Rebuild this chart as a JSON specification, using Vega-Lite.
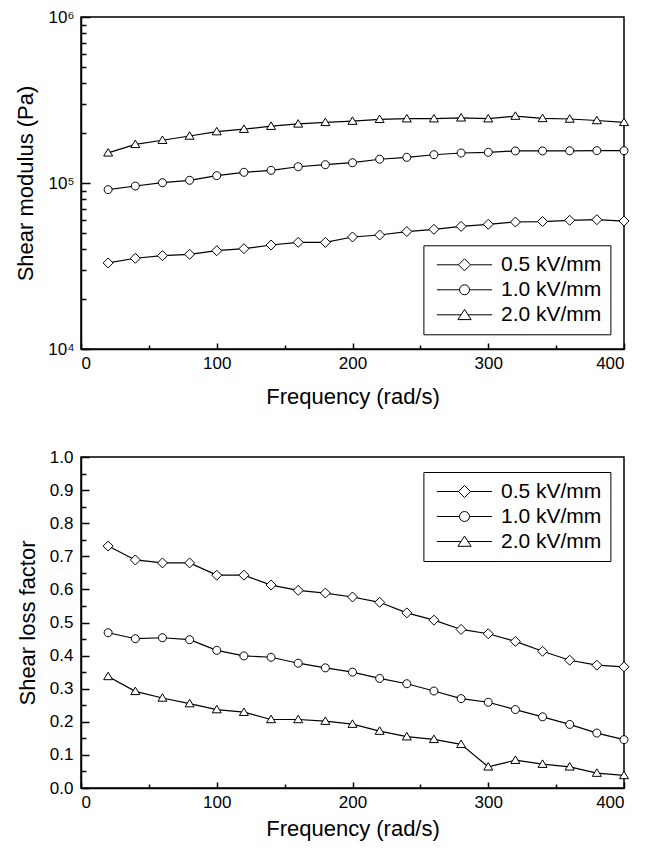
{
  "$schema": "https://vega.github.io/schema/vega-lite/v6.json",
  "padding": {"left": 14, "top": 7, "right": 5, "bottom": 5},
  "background": "white",
  "config": {
    "font": "Liberation Sans",
    "view": {"stroke": "black", "strokeWidth": 1.5},
    "axis": {"domainColor": "black", "domainWidth": 1.5, "tickColor": "black", "tickWidth": 1.5, "labelColor": "black", "titleColor": "black", "labelFontSize": 17, "titleFontSize": 22, "titleFontWeight": "normal", "grid": false, "labelFont": "Liberation Sans", "titleFont": "Liberation Sans"},
    "legend": {"strokeColor": "black", "fillColor": "white", "strokeWidth": 1, "cornerRadius": 0, "padding": 9, "labelFontSize": 21, "labelColor": "black", "labelFont": "Liberation Sans", "symbolSize": 144, "symbolOffset": 21.6, "labelOffset": 26, "rowPadding": 3, "symbolStrokeWidth": 1, "symbolStrokeColor": "black", "symbolFillColor": "white", "symbolOpacity": 1},
    "concat": {"spacing": 39}
  },
  "datasets": {
    "modulus": [
      {"series": "0.5 kV/mm", "freq": 20, "value": 33000}, {"series": "0.5 kV/mm", "freq": 40, "value": 35200}, {"series": "0.5 kV/mm", "freq": 60, "value": 36500}, {"series": "0.5 kV/mm", "freq": 80, "value": 37200}, {"series": "0.5 kV/mm", "freq": 100, "value": 39100}, {"series": "0.5 kV/mm", "freq": 120, "value": 40200}, {"series": "0.5 kV/mm", "freq": 140, "value": 42300}, {"series": "0.5 kV/mm", "freq": 160, "value": 43900}, {"series": "0.5 kV/mm", "freq": 180, "value": 43900}, {"series": "0.5 kV/mm", "freq": 200, "value": 47300}, {"series": "0.5 kV/mm", "freq": 220, "value": 48600}, {"series": "0.5 kV/mm", "freq": 240, "value": 51000}, {"series": "0.5 kV/mm", "freq": 260, "value": 52600}, {"series": "0.5 kV/mm", "freq": 280, "value": 54800}, {"series": "0.5 kV/mm", "freq": 300, "value": 56400}, {"series": "0.5 kV/mm", "freq": 320, "value": 58200}, {"series": "0.5 kV/mm", "freq": 340, "value": 58600}, {"series": "0.5 kV/mm", "freq": 360, "value": 59600}, {"series": "0.5 kV/mm", "freq": 380, "value": 60100}, {"series": "0.5 kV/mm", "freq": 400, "value": 59000},
      {"series": "1.0 kV/mm", "freq": 20, "value": 91200}, {"series": "1.0 kV/mm", "freq": 40, "value": 95900}, {"series": "1.0 kV/mm", "freq": 60, "value": 100400}, {"series": "1.0 kV/mm", "freq": 80, "value": 103800}, {"series": "1.0 kV/mm", "freq": 100, "value": 110700}, {"series": "1.0 kV/mm", "freq": 120, "value": 116000}, {"series": "1.0 kV/mm", "freq": 140, "value": 119200}, {"series": "1.0 kV/mm", "freq": 160, "value": 125300}, {"series": "1.0 kV/mm", "freq": 180, "value": 128900}, {"series": "1.0 kV/mm", "freq": 200, "value": 132500}, {"series": "1.0 kV/mm", "freq": 220, "value": 139000}, {"series": "1.0 kV/mm", "freq": 240, "value": 142800}, {"series": "1.0 kV/mm", "freq": 260, "value": 148000}, {"series": "1.0 kV/mm", "freq": 280, "value": 151600}, {"series": "1.0 kV/mm", "freq": 300, "value": 153000}, {"series": "1.0 kV/mm", "freq": 320, "value": 156000}, {"series": "1.0 kV/mm", "freq": 340, "value": 156000}, {"series": "1.0 kV/mm", "freq": 360, "value": 156300}, {"series": "1.0 kV/mm", "freq": 380, "value": 156600}, {"series": "1.0 kV/mm", "freq": 400, "value": 156600},
      {"series": "2.0 kV/mm", "freq": 20, "value": 152000}, {"series": "2.0 kV/mm", "freq": 40, "value": 171000}, {"series": "2.0 kV/mm", "freq": 60, "value": 181000}, {"series": "2.0 kV/mm", "freq": 80, "value": 192000}, {"series": "2.0 kV/mm", "freq": 100, "value": 204000}, {"series": "2.0 kV/mm", "freq": 120, "value": 211000}, {"series": "2.0 kV/mm", "freq": 140, "value": 220000}, {"series": "2.0 kV/mm", "freq": 160, "value": 227000}, {"series": "2.0 kV/mm", "freq": 180, "value": 232000}, {"series": "2.0 kV/mm", "freq": 200, "value": 236000}, {"series": "2.0 kV/mm", "freq": 220, "value": 242000}, {"series": "2.0 kV/mm", "freq": 240, "value": 244000}, {"series": "2.0 kV/mm", "freq": 260, "value": 244000}, {"series": "2.0 kV/mm", "freq": 280, "value": 247000}, {"series": "2.0 kV/mm", "freq": 300, "value": 244000}, {"series": "2.0 kV/mm", "freq": 320, "value": 253000}, {"series": "2.0 kV/mm", "freq": 340, "value": 245000}, {"series": "2.0 kV/mm", "freq": 360, "value": 243000}, {"series": "2.0 kV/mm", "freq": 380, "value": 238000}, {"series": "2.0 kV/mm", "freq": 400, "value": 232000}
    ],
    "loss": [
      {"series": "0.5 kV/mm", "freq": 20, "value": 0.731}, {"series": "0.5 kV/mm", "freq": 40, "value": 0.689}, {"series": "0.5 kV/mm", "freq": 60, "value": 0.68}, {"series": "0.5 kV/mm", "freq": 80, "value": 0.68}, {"series": "0.5 kV/mm", "freq": 100, "value": 0.643}, {"series": "0.5 kV/mm", "freq": 120, "value": 0.643}, {"series": "0.5 kV/mm", "freq": 140, "value": 0.613}, {"series": "0.5 kV/mm", "freq": 160, "value": 0.597}, {"series": "0.5 kV/mm", "freq": 180, "value": 0.589}, {"series": "0.5 kV/mm", "freq": 200, "value": 0.577}, {"series": "0.5 kV/mm", "freq": 220, "value": 0.561}, {"series": "0.5 kV/mm", "freq": 240, "value": 0.529}, {"series": "0.5 kV/mm", "freq": 260, "value": 0.507}, {"series": "0.5 kV/mm", "freq": 280, "value": 0.479}, {"series": "0.5 kV/mm", "freq": 300, "value": 0.466}, {"series": "0.5 kV/mm", "freq": 320, "value": 0.443}, {"series": "0.5 kV/mm", "freq": 340, "value": 0.413}, {"series": "0.5 kV/mm", "freq": 360, "value": 0.386}, {"series": "0.5 kV/mm", "freq": 380, "value": 0.371}, {"series": "0.5 kV/mm", "freq": 400, "value": 0.366},
      {"series": "1.0 kV/mm", "freq": 20, "value": 0.469}, {"series": "1.0 kV/mm", "freq": 40, "value": 0.451}, {"series": "1.0 kV/mm", "freq": 60, "value": 0.454}, {"series": "1.0 kV/mm", "freq": 80, "value": 0.448}, {"series": "1.0 kV/mm", "freq": 100, "value": 0.416}, {"series": "1.0 kV/mm", "freq": 120, "value": 0.399}, {"series": "1.0 kV/mm", "freq": 140, "value": 0.395}, {"series": "1.0 kV/mm", "freq": 160, "value": 0.377}, {"series": "1.0 kV/mm", "freq": 180, "value": 0.363}, {"series": "1.0 kV/mm", "freq": 200, "value": 0.35}, {"series": "1.0 kV/mm", "freq": 220, "value": 0.331}, {"series": "1.0 kV/mm", "freq": 240, "value": 0.315}, {"series": "1.0 kV/mm", "freq": 260, "value": 0.293}, {"series": "1.0 kV/mm", "freq": 280, "value": 0.27}, {"series": "1.0 kV/mm", "freq": 300, "value": 0.259}, {"series": "1.0 kV/mm", "freq": 320, "value": 0.237}, {"series": "1.0 kV/mm", "freq": 340, "value": 0.215}, {"series": "1.0 kV/mm", "freq": 360, "value": 0.192}, {"series": "1.0 kV/mm", "freq": 380, "value": 0.166}, {"series": "1.0 kV/mm", "freq": 400, "value": 0.146},
      {"series": "2.0 kV/mm", "freq": 20, "value": 0.337}, {"series": "2.0 kV/mm", "freq": 40, "value": 0.292}, {"series": "2.0 kV/mm", "freq": 60, "value": 0.272}, {"series": "2.0 kV/mm", "freq": 80, "value": 0.255}, {"series": "2.0 kV/mm", "freq": 100, "value": 0.237}, {"series": "2.0 kV/mm", "freq": 120, "value": 0.229}, {"series": "2.0 kV/mm", "freq": 140, "value": 0.207}, {"series": "2.0 kV/mm", "freq": 160, "value": 0.207}, {"series": "2.0 kV/mm", "freq": 180, "value": 0.202}, {"series": "2.0 kV/mm", "freq": 200, "value": 0.193}, {"series": "2.0 kV/mm", "freq": 220, "value": 0.172}, {"series": "2.0 kV/mm", "freq": 240, "value": 0.155}, {"series": "2.0 kV/mm", "freq": 260, "value": 0.147}, {"series": "2.0 kV/mm", "freq": 280, "value": 0.132}, {"series": "2.0 kV/mm", "freq": 300, "value": 0.064}, {"series": "2.0 kV/mm", "freq": 320, "value": 0.084}, {"series": "2.0 kV/mm", "freq": 340, "value": 0.072}, {"series": "2.0 kV/mm", "freq": 360, "value": 0.064}, {"series": "2.0 kV/mm", "freq": 380, "value": 0.045}, {"series": "2.0 kV/mm", "freq": 400, "value": 0.038}
    ]
  },
  "vconcat": [
    {
      "width": 543,
      "height": 332,
      "data": {"name": "modulus"},
      "encoding": {
        "x": {"field": "freq", "type": "quantitative", "scale": {"domain": [0, 400], "nice": false},
          "axis": {"title": "Frequency (rad/s)", "values": [0, 50, 100, 150, 200, 250, 300, 350, 400], "labelExpr": "datum.value % 100 === 0 ? datum.label : ''", "tickSize": {"condition": {"test": "datum.value % 100 === 0", "value": -6}, "value": -4}, "labelPadding": 12, "titlePadding": 15}},
        "y": {"field": "value", "type": "quantitative", "scale": {"type": "log", "domain": [10000, 1000000], "nice": false},
          "axis": {"title": "Shear modulus (Pa)", "values": [10000, 20000, 30000, 40000, 50000, 60000, 70000, 80000, 90000, 100000, 200000, 300000, 400000, 500000, 600000, 700000, 800000, 900000, 1000000], "labelExpr": "datum.value === 10000 ? '10⁴' : datum.value === 100000 ? '10⁵' : datum.value === 1000000 ? '10⁶' : ''", "tickSize": {"condition": {"test": "datum.value === 10000 || datum.value === 100000 || datum.value === 1000000", "value": -9}, "value": -5}, "labelPadding": 16, "titlePadding": 10}}
      },
      "layer": [
        {"mark": {"type": "line", "color": "black", "strokeWidth": 1.2}, "encoding": {"detail": {"field": "series"}}},
        {"mark": {"type": "point", "filled": true, "fill": "white", "stroke": "black", "strokeWidth": 1, "size": 100, "opacity": 1},
          "encoding": {"shape": {"field": "series", "type": "nominal", "scale": {"domain": ["0.5 kV/mm", "1.0 kV/mm", "2.0 kV/mm"], "range": ["M-1,0L0,-1L1,0L0,1Z", "M-0.8,0A0.8,0.8,0,1,1,0.8,0A0.8,0.8,0,1,1,-0.8,0Z", "M0,-0.85L0.9,0.65L-0.9,0.65Z"]}, "legend": null}}},
        {"mark": {"type": "point", "opacity": 0, "size": 144},
          "encoding": {"shape": {"field": "series", "type": "nominal", "scale": {"domain": ["0.5 kV/mm", "1.0 kV/mm", "2.0 kV/mm"], "range": ["M-4.6,0L-1,0M1,0L4.6,0M-1,0L0,-1L1,0L0,1Z", "M-4.6,0L-0.83,0M0.83,0L4.6,0M-0.83,0A0.83,0.83,0,1,1,0.83,0A0.83,0.83,0,1,1,-0.83,0Z", "M-4.6,0L-0.58,0M0.58,0L4.6,0M0,-0.9L1.1,0.8L-1.1,0.8Z"]},
            "legend": {"title": null, "orient": "none", "legendX": 342.4, "legendY": 228.3}}}}
      ],
      "resolve": {"scale": {"shape": "independent"}, "legend": {"shape": "independent"}}
    },
    {
      "width": 543,
      "height": 331,
      "data": {"name": "loss"},
      "encoding": {
        "x": {"field": "freq", "type": "quantitative", "scale": {"domain": [0, 400], "nice": false},
          "axis": {"title": "Frequency (rad/s)", "values": [0, 50, 100, 150, 200, 250, 300, 350, 400], "labelExpr": "datum.value % 100 === 0 ? datum.label : ''", "tickSize": {"condition": {"test": "datum.value % 100 === 0", "value": -6}, "value": -4}, "labelPadding": 12, "titlePadding": 8}},
        "y": {"field": "value", "type": "quantitative", "scale": {"domain": [0, 1], "nice": false},
          "axis": {"title": "Shear loss factor", "values": [0, 0.05, 0.1, 0.15, 0.2, 0.25, 0.3, 0.35, 0.4, 0.45, 0.5, 0.55, 0.6, 0.65, 0.7, 0.75, 0.8, 0.85, 0.9, 0.95, 1], "labelExpr": "round(datum.value * 100) % 10 === 0 ? format(datum.value, '.1f') : ''", "tickSize": {"condition": {"test": "round(datum.value * 100) % 10 === 0", "value": -8}, "value": -5}, "labelPadding": 16, "titlePadding": 10}}
      },
      "layer": [
        {"mark": {"type": "line", "color": "black", "strokeWidth": 1.2}, "encoding": {"detail": {"field": "series"}}},
        {"mark": {"type": "point", "filled": true, "fill": "white", "stroke": "black", "strokeWidth": 1, "size": 100, "opacity": 1},
          "encoding": {"shape": {"field": "series", "type": "nominal", "scale": {"domain": ["0.5 kV/mm", "1.0 kV/mm", "2.0 kV/mm"], "range": ["M-1,0L0,-1L1,0L0,1Z", "M-0.8,0A0.8,0.8,0,1,1,0.8,0A0.8,0.8,0,1,1,-0.8,0Z", "M0,-0.85L0.9,0.65L-0.9,0.65Z"]}, "legend": null}}},
        {"mark": {"type": "point", "opacity": 0, "size": 144},
          "encoding": {"shape": {"field": "series", "type": "nominal", "scale": {"domain": ["0.5 kV/mm", "1.0 kV/mm", "2.0 kV/mm"], "range": ["M-4.6,0L-1,0M1,0L4.6,0M-1,0L0,-1L1,0L0,1Z", "M-4.6,0L-0.83,0M0.83,0L4.6,0M-0.83,0A0.83,0.83,0,1,1,0.83,0A0.83,0.83,0,1,1,-0.83,0Z", "M-4.6,0L-0.58,0M0.58,0L4.6,0M0,-0.9L1.1,0.8L-1.1,0.8Z"]},
            "legend": {"title": null, "orient": "none", "legendX": 342.4, "legendY": 15}}}}
      ],
      "resolve": {"scale": {"shape": "independent"}, "legend": {"shape": "independent"}}
    }
  ]
}
